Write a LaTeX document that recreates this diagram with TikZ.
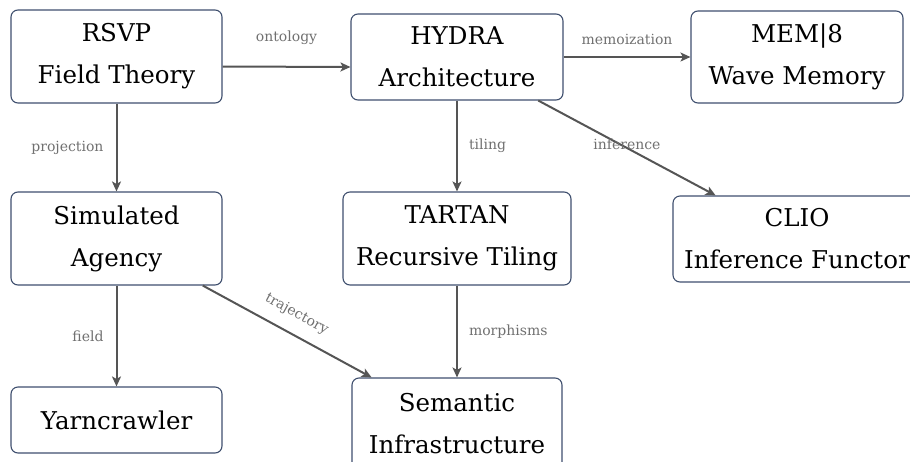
\documentclass[tikz,border=0pt]{standalone}
\usepackage{fontspec}
\setmainfont{DejaVu Serif}
\usetikzlibrary{arrows.meta}
\definecolor{boxc}{HTML}{3F4F6E}
\definecolor{arrc}{HTML}{555555}
\definecolor{labc}{HTML}{707070}
\begin{document}
\begin{tikzpicture}[x=1pt,y=-1pt,
 box/.style={draw=boxc,line width=1.1pt,rounded corners=7pt,align=center,inner sep=0pt,font=\fontsize{24.5}{42}\selectfont},
 arr/.style={draw=arrc,line width=2pt,-{Stealth[length=10pt,width=9pt,inset=2.5pt]}},
 lab/.style={font=\fontsize{14}{16}\selectfont,text=labc,inner sep=0pt}]
\useasboundingbox (0,0) rectangle (910,461);
\clip (0,0) rectangle (910,461);
\node[box,minimum width=211pt,minimum height=93pt] (rsvp) at (116.5,56.5) {RSVP\\Field Theory};
\node[box,minimum width=212pt,minimum height=86pt] (hydra) at (457,57) {HYDRA\\Architecture};
\node[box,minimum width=212pt,minimum height=92pt] (mem) at (797,57) {MEM|8\\Wave Memory};
\node[box,minimum width=211pt,minimum height=93pt] (sim) at (116.5,238.5) {Simulated\\Agency};
\node[box,minimum width=228pt,minimum height=93pt] (tartan) at (457,238.5) {TARTAN\\Recursive Tiling};
\node[box,minimum width=248pt,minimum height=86pt] (clio) at (797,239) {CLIO\\Inference Functor};
\node[box,minimum width=211pt,minimum height=66pt] (yarn) at (116.5,420) {Yarncrawler};
\node[box,minimum width=210pt,minimum height=92pt] (sem) at (457,424) {Semantic\\Infrastructure};
\draw[arr] ([yshift=-10pt]rsvp.east) -- node[lab,yshift=29pt] {ontology} ([yshift=-10pt]hydra.west);
\draw[arr] (hydra) -- node[lab,yshift=18pt] {memoization} (mem);
\draw[arr] (rsvp) -- node[lab,left=12pt] {projection} (sim);
\draw[arr] (hydra) -- node[lab,right=11pt] {tiling} (tartan);
\draw[arr] (hydra) -- node[lab,yshift=4pt] {inference} (clio);
\draw[arr] (sim) -- node[lab,left=12pt] {field} (yarn);
\draw[arr] (sim) -- node[lab,sloped,above=12pt,pos=0.5] {trajectory} (sem);
\draw[arr] (tartan) -- node[lab,right=11pt] {morphisms} (sem);
\end{tikzpicture}
\end{document}
